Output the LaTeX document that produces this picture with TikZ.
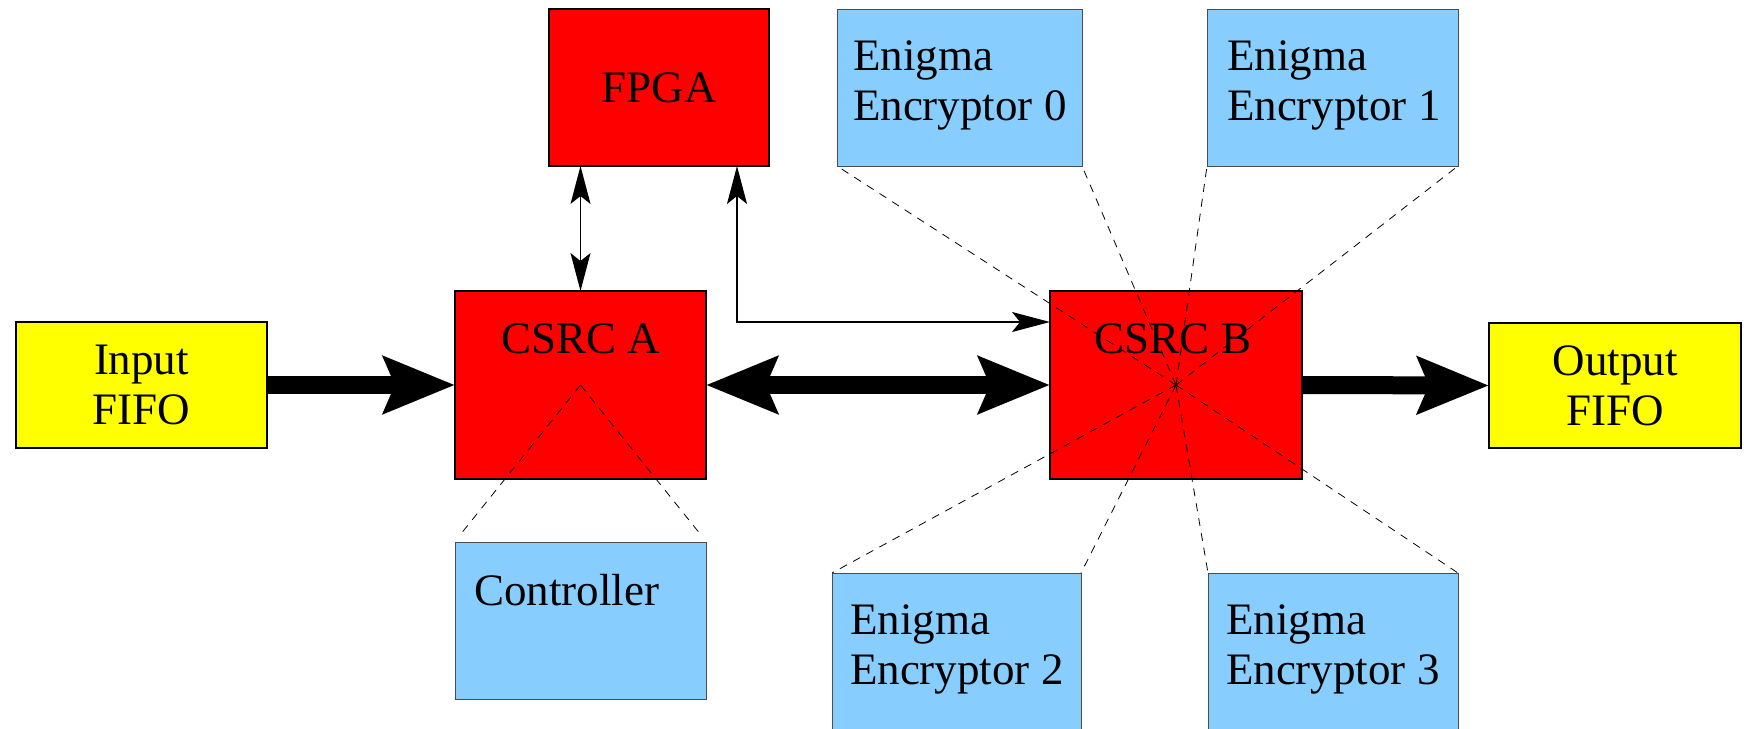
\documentclass[tikz,border=0pt]{standalone}
\usepackage{fontspec}
\setmainfont{Liberation Serif}
\usetikzlibrary{arrows.meta}
\definecolor{boxred}{RGB}{255,0,0}
\definecolor{boxyellow}{RGB}{255,255,0}
\definecolor{boxblue}{RGB}{135,206,255}
\tikzset{
  box/.style={draw=black, line width=1.6pt, inner sep=0pt, outer sep=0pt},
  redbox/.style={box, fill=boxred},
  yellowbox/.style={box, fill=boxyellow, align=center},
  bluebox/.style={draw=black!70, line width=1pt, fill=boxblue, inner sep=0pt, outer sep=0pt},
  lbl/.style={inner sep=0pt, outer sep=0pt},
  thinarrow/.style={line width=1.5pt, arrows={Stealth[length=38pt,width=20pt,inset=8pt]-Stealth[length=38pt,width=20pt,inset=8pt]}},
  thickline/.style={line width=18pt},
  thicktip/.tip={Stealth[length=71pt,width=56pt,inset=11pt]},
  dashline/.style={line width=0.8pt, dash pattern=on 8pt off 7pt},
}
\begin{document}
\begin{tikzpicture}[x=1pt,y=-1pt, font=\fontsize{45}{50}\selectfont]
\useasboundingbox (0,0) rectangle (1744,728);
% boxes
\node[yellowbox, minimum width=251pt, minimum height=126pt] (in) at (141.5,385) {Input\\FIFO};
\node[redbox, minimum width=251pt, minimum height=188pt] (a) at (580.5,385) {};
\node[redbox, minimum width=220pt, minimum height=157pt] (fpga) at (659,87.5) {FPGA};
\node[bluebox, minimum width=251pt, minimum height=157pt] (ctrl) at (580.5,620.5) {};
\node[redbox, minimum width=252pt, minimum height=188pt] (b) at (1176,385) {};
\node[yellowbox, minimum width=252pt, minimum height=125pt] (out) at (1615,385.5) {Output\\FIFO};
\node[bluebox, minimum width=245pt, minimum height=157pt] (e0) at (959.5,87.5) {};
\node[bluebox, minimum width=251pt, minimum height=157pt] (e1) at (1332.5,87.5) {};
\node[bluebox, minimum width=249pt, minimum height=157pt] (e2) at (956.5,651.5) {};
\node[bluebox, minimum width=250pt, minimum height=157pt] (e3) at (1333,651.5) {};
% box texts
\node[lbl, anchor=base] (atext) at ([yshift=-62pt]a.north) {CSRC A};
\node[lbl, anchor=base] (btext) at ([xshift=-3pt,yshift=-62pt]b.north) {CSRC B};
\node[lbl, anchor=base west] (ctext) at ([xshift=19pt,yshift=-63pt]ctrl.north west) {Controller};
\node[lbl, anchor=north west, align=left] (e0text) at ([xshift=16pt,yshift=-32pt]e0.north west) {Enigma\\Encryptor 0};
\node[lbl, anchor=north west, align=left] (e1text) at ([xshift=20pt,yshift=-32pt]e1.north west) {Enigma\\Encryptor 1};
\node[lbl, anchor=north west, align=left] (e2text) at ([xshift=18pt,yshift=-32pt]e2.north west) {Enigma\\Encryptor 2};
\node[lbl, anchor=north west, align=left] (e3text) at ([xshift=18pt,yshift=-32pt]e3.north west) {Enigma\\Encryptor 3};
% thick data arrows
\draw[thickline, -thicktip] (in.east) -- (a.west);
\draw[thickline, thicktip-thicktip] (a.east) -- (b.west);
\draw[thickline, -thicktip] (b.east) -- (out.west);
% thin control arrows
\draw[thinarrow] (a.north) -- (a.north |- fpga.south);
\coordinate (bin) at ([yshift=63pt]b.west);
\coordinate (corner) at (737,322);
\draw[thinarrow] (fpga.south -| corner) |- (bin);
% dashed fan-outs
\draw[dashline] (a.center) -- ([shift={(5pt,7pt)}]ctrl.north west);
\draw[dashline] (a.center) -- ([shift={(-5pt,7pt)}]ctrl.north east);
\foreach \t in {e0.south west, e0.south east, e1.south west, e1.south east, e2.north west, e2.north east, e3.north west, e3.north east}
  \draw[dashline] (b.center) -- (\t);
\end{tikzpicture}
\end{document}
